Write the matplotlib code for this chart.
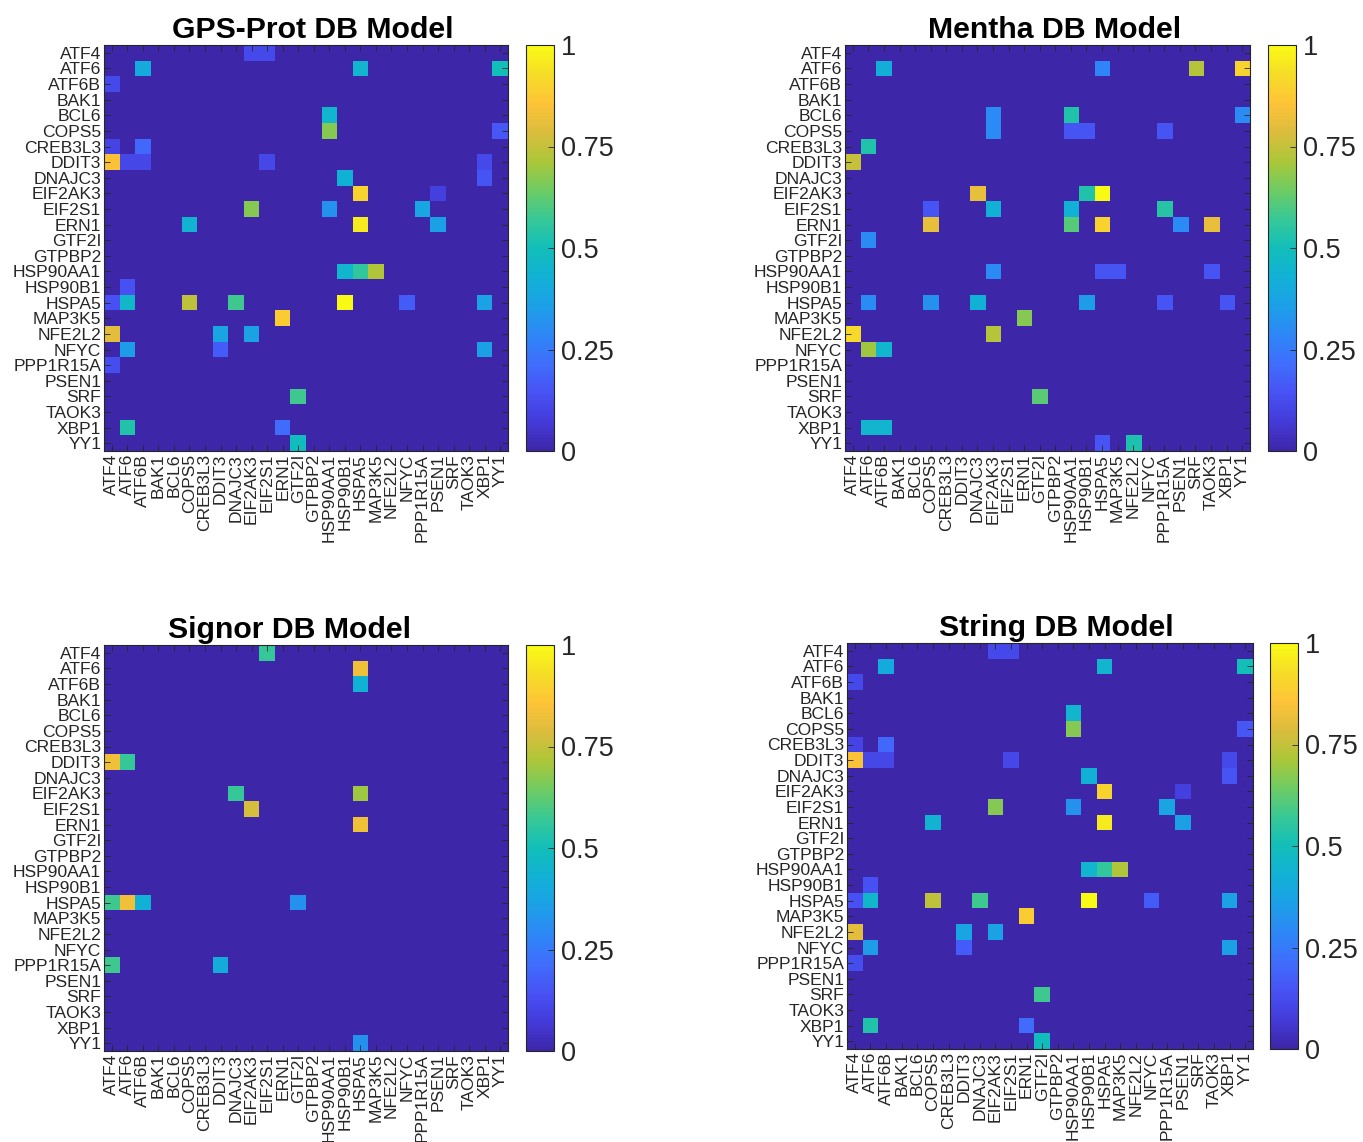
import matplotlib
matplotlib.use("Agg")
import matplotlib.pyplot as plt
import numpy as np
from matplotlib.colors import LinearSegmentedColormap

plt.rcParams['font.family'] = ['Liberation Sans', 'DejaVu Sans']

genes = ["ATF4", "ATF6", "ATF6B", "BAK1", "BCL6", "COPS5", "CREB3L3", "DDIT3",
         "DNAJC3", "EIF2AK3", "EIF2S1", "ERN1", "GTF2I", "GTPBP2", "HSP90AA1",
         "HSP90B1", "HSPA5", "MAP3K5", "NFE2L2", "NFYC", "PPP1R15A", "PSEN1",
         "SRF", "TAOK3", "XBP1", "YY1"]

# (row gene, column gene, value)
gps_cells = [
    ("ATF4", "EIF2AK3", 0.12), ("ATF4", "EIF2S1", 0.12),
    ("ATF6", "ATF6B", 0.40), ("ATF6", "HSPA5", 0.45), ("ATF6", "YY1", 0.50),
    ("ATF6B", "ATF4", 0.12),
    ("BCL6", "HSP90AA1", 0.45),
    ("COPS5", "HSP90AA1", 0.67), ("COPS5", "YY1", 0.16),
    ("CREB3L3", "ATF4", 0.10), ("CREB3L3", "ATF6B", 0.20),
    ("DDIT3", "ATF4", 0.85), ("DDIT3", "ATF6", 0.11), ("DDIT3", "ATF6B", 0.11),
    ("DDIT3", "EIF2S1", 0.11), ("DDIT3", "XBP1", 0.12),
    ("DNAJC3", "HSP90B1", 0.43), ("DNAJC3", "XBP1", 0.15),
    ("EIF2AK3", "HSPA5", 0.90), ("EIF2AK3", "PSEN1", 0.09),
    ("EIF2S1", "EIF2AK3", 0.67), ("EIF2S1", "HSP90AA1", 0.32), ("EIF2S1", "PPP1R15A", 0.38),
    ("ERN1", "COPS5", 0.44), ("ERN1", "HSPA5", 0.96), ("ERN1", "PSEN1", 0.36),
    ("HSP90AA1", "HSP90B1", 0.45), ("HSP90AA1", "HSPA5", 0.56), ("HSP90AA1", "MAP3K5", 0.72),
    ("HSP90B1", "ATF6", 0.14),
    ("HSPA5", "ATF4", 0.14), ("HSPA5", "ATF6", 0.46), ("HSPA5", "COPS5", 0.74),
    ("HSPA5", "DNAJC3", 0.58), ("HSPA5", "HSP90B1", 1.00), ("HSPA5", "NFYC", 0.17),
    ("HSPA5", "XBP1", 0.37),
    ("MAP3K5", "ERN1", 0.88),
    ("NFE2L2", "ATF4", 0.80), ("NFE2L2", "DDIT3", 0.38), ("NFE2L2", "EIF2AK3", 0.37),
    ("NFYC", "ATF6", 0.35), ("NFYC", "DDIT3", 0.17), ("NFYC", "XBP1", 0.36),
    ("PPP1R15A", "ATF4", 0.13),
    ("SRF", "GTF2I", 0.58),
    ("XBP1", "ATF6", 0.53), ("XBP1", "ERN1", 0.21),
    ("YY1", "GTF2I", 0.49),
]

mentha_cells = [
    ("ATF6", "ATF6B", 0.42), ("ATF6", "HSPA5", 0.28), ("ATF6", "SRF", 0.73), ("ATF6", "YY1", 0.90),
    ("BCL6", "EIF2AK3", 0.30), ("BCL6", "HSP90AA1", 0.53), ("BCL6", "YY1", 0.30),
    ("COPS5", "EIF2AK3", 0.30), ("COPS5", "HSP90AA1", 0.15), ("COPS5", "HSP90B1", 0.15),
    ("COPS5", "PPP1R15A", 0.15),
    ("CREB3L3", "ATF6", 0.53),
    ("DDIT3", "ATF4", 0.75),
    ("EIF2AK3", "DNAJC3", 0.81), ("EIF2AK3", "HSP90B1", 0.53), ("EIF2AK3", "HSPA5", 1.00),
    ("EIF2S1", "COPS5", 0.15), ("EIF2S1", "EIF2AK3", 0.43), ("EIF2S1", "HSP90AA1", 0.43),
    ("EIF2S1", "PPP1R15A", 0.54),
    ("ERN1", "COPS5", 0.81), ("ERN1", "HSP90AA1", 0.61), ("ERN1", "HSPA5", 0.90),
    ("ERN1", "PSEN1", 0.30), ("ERN1", "TAOK3", 0.81),
    ("GTF2I", "ATF6", 0.30),
    ("HSP90AA1", "EIF2AK3", 0.30), ("HSP90AA1", "HSPA5", 0.15), ("HSP90AA1", "MAP3K5", 0.15),
    ("HSP90AA1", "TAOK3", 0.15),
    ("HSPA5", "ATF6", 0.30), ("HSPA5", "COPS5", 0.32), ("HSPA5", "DNAJC3", 0.43),
    ("HSPA5", "HSP90B1", 0.35), ("HSPA5", "PPP1R15A", 0.15), ("HSPA5", "XBP1", 0.15),
    ("MAP3K5", "ERN1", 0.67),
    ("NFE2L2", "ATF4", 0.92), ("NFE2L2", "EIF2AK3", 0.73),
    ("NFYC", "ATF6", 0.70), ("NFYC", "ATF6B", 0.45),
    ("SRF", "GTF2I", 0.62),
    ("XBP1", "ATF6", 0.45), ("XBP1", "ATF6B", 0.45),
    ("YY1", "HSPA5", 0.15), ("YY1", "NFE2L2", 0.52),
]

signor_cells = [
    ("ATF4", "EIF2S1", 0.57),
    ("ATF6", "HSPA5", 0.83),
    ("ATF6B", "HSPA5", 0.43),
    ("DDIT3", "ATF4", 0.83), ("DDIT3", "ATF6", 0.57),
    ("EIF2AK3", "DNAJC3", 0.57), ("EIF2AK3", "HSPA5", 0.70),
    ("EIF2S1", "EIF2AK3", 0.78),
    ("ERN1", "HSPA5", 0.83),
    ("HSPA5", "ATF4", 0.58), ("HSPA5", "ATF6", 0.83), ("HSPA5", "ATF6B", 0.43),
    ("HSPA5", "GTF2I", 0.32),
    ("PPP1R15A", "ATF4", 0.58), ("PPP1R15A", "DDIT3", 0.41),
    ("YY1", "HSPA5", 0.32),
]

string_cells = [
    ("ATF4", "EIF2AK3", 0.12), ("ATF4", "EIF2S1", 0.12),
    ("ATF6", "ATF6B", 0.40), ("ATF6", "HSPA5", 0.45), ("ATF6", "YY1", 0.50),
    ("ATF6B", "ATF4", 0.12),
    ("BCL6", "HSP90AA1", 0.45),
    ("COPS5", "HSP90AA1", 0.67), ("COPS5", "YY1", 0.16),
    ("CREB3L3", "ATF4", 0.10), ("CREB3L3", "ATF6B", 0.20),
    ("DDIT3", "ATF4", 0.85), ("DDIT3", "ATF6", 0.11), ("DDIT3", "ATF6B", 0.11),
    ("DDIT3", "EIF2S1", 0.11), ("DDIT3", "XBP1", 0.12),
    ("DNAJC3", "HSP90B1", 0.43), ("DNAJC3", "XBP1", 0.15),
    ("EIF2AK3", "HSPA5", 0.90), ("EIF2AK3", "PSEN1", 0.09),
    ("EIF2S1", "EIF2AK3", 0.67), ("EIF2S1", "HSP90AA1", 0.32), ("EIF2S1", "PPP1R15A", 0.38),
    ("ERN1", "COPS5", 0.44), ("ERN1", "HSPA5", 0.96), ("ERN1", "PSEN1", 0.36),
    ("HSP90AA1", "HSP90B1", 0.45), ("HSP90AA1", "HSPA5", 0.56), ("HSP90AA1", "MAP3K5", 0.72),
    ("HSP90B1", "ATF6", 0.14),
    ("HSPA5", "ATF4", 0.14), ("HSPA5", "ATF6", 0.46), ("HSPA5", "COPS5", 0.74),
    ("HSPA5", "DNAJC3", 0.58), ("HSPA5", "HSP90B1", 1.00), ("HSPA5", "NFYC", 0.17),
    ("HSPA5", "XBP1", 0.37),
    ("MAP3K5", "ERN1", 0.88),
    ("NFE2L2", "ATF4", 0.80), ("NFE2L2", "DDIT3", 0.38), ("NFE2L2", "EIF2AK3", 0.37),
    ("NFYC", "ATF6", 0.35), ("NFYC", "DDIT3", 0.17), ("NFYC", "XBP1", 0.36),
    ("PPP1R15A", "ATF4", 0.13),
    ("SRF", "GTF2I", 0.58),
    ("XBP1", "ATF6", 0.53), ("XBP1", "ERN1", 0.21),
    ("YY1", "GTF2I", 0.49),
]

titles = ["GPS-Prot DB Model", "Mentha DB Model", "Signor DB Model", "String DB Model"]
cbar_ticks = [0, 0.25, 0.5, 0.75, 1]
cbar_ticklabels = ["0", "0.25", "0.5", "0.75", "1"]

# parula-like colormap
parula_anchors = [
    (0.000, (0.2422, 0.1504, 0.6603)),
    (0.071, (0.2660, 0.2300, 0.8500)),
    (0.143, (0.2810, 0.3228, 0.9579)),
    (0.214, (0.2500, 0.4300, 0.9900)),
    (0.286, (0.1786, 0.5289, 0.9682)),
    (0.357, (0.1100, 0.6250, 0.9050)),
    (0.429, (0.0689, 0.6948, 0.8394)),
    (0.500, (0.0704, 0.7457, 0.7258)),
    (0.571, (0.2161, 0.7843, 0.5923)),
    (0.643, (0.4300, 0.8000, 0.3900)),
    (0.714, (0.6720, 0.7793, 0.2227)),
    (0.786, (0.8600, 0.7400, 0.2400)),
    (0.857, (0.9970, 0.7659, 0.2199)),
    (0.929, (0.9650, 0.8650, 0.1550)),
    (1.000, (0.9769, 0.9839, 0.0805)),
]
parula = LinearSegmentedColormap.from_list("parula", parula_anchors, N=256)


def build(cells):
    n = len(genes)
    m = np.zeros((n, n))
    for r, c, v in cells:
        m[genes.index(r), genes.index(c)] = v
    return m


fig = plt.figure(figsize=(13.63, 11.42), dpi=100)
W, H = 1363.0, 1142.0

# axes box, colorbar box (pixels), title horizontal shift (pixels)
panels = [
    (gps_cells, (104, 45, 508, 451), (526, 45, 554, 451), 7),
    (mentha_cells, (845, 45, 1250, 451), (1268, 45, 1296, 451), 7),
    (signor_cells, (104, 645, 508, 1051), (526, 645, 554, 1051), -17),
    (string_cells, (847, 643, 1253, 1049), (1270, 643, 1298, 1049), 6),
]

dark = "#262626"
for (cells, abox, cbox, tdx), title in zip(panels, titles):
    x0, y0, x1, y1 = abox
    ax = fig.add_axes([x0 / W, 1 - y1 / H, (x1 - x0) / W, (y1 - y0) / H])
    im = ax.imshow(build(cells), cmap=parula, vmin=0, vmax=1, aspect="auto",
                   interpolation="nearest")
    ax.set_xticks(range(len(genes)))
    ax.set_yticks(range(len(genes)))
    ax.set_xticklabels(genes, rotation=90, fontsize=12.6, color=dark)
    ax.set_yticklabels(genes, fontsize=12.6, color=dark)
    ax.tick_params(direction="in", length=4, width=0.6, color=dark,
                   top=True, right=True, pad=2)
    for s in ax.spines.values():
        s.set_color(dark)
        s.set_linewidth(0.8)
    ax.set_title(title, fontsize=21.8, fontweight="bold", pad=5,
                 x=0.5 + tdx / (x1 - x0))

    cx0, cy0, cx1, cy1 = cbox
    cax = fig.add_axes([cx0 / W, 1 - cy1 / H, (cx1 - cx0) / W, (cy1 - cy0) / H])
    cb = fig.colorbar(im, cax=cax, ticks=cbar_ticks)
    cb.ax.set_yticklabels(cbar_ticklabels, fontsize=19.5, color=dark)
    cb.ax.tick_params(direction="in", length=4, width=0.6, color=dark, pad=5)
    cb.outline.set_edgecolor(dark)
    cb.outline.set_linewidth(0.8)

fig.savefig("out.png", dpi=100, facecolor="white")
